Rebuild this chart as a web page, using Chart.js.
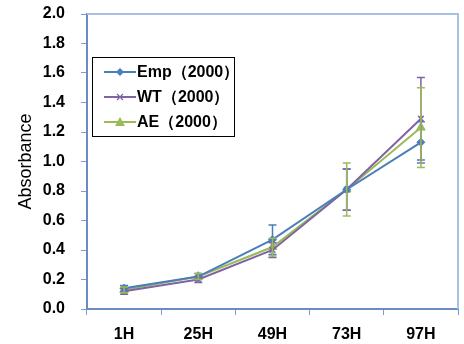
<!DOCTYPE html>
<html>
<head>
<meta charset="utf-8">
<script src="https://cdn.jsdelivr.net/npm/chart.js@4.4.0/dist/chart.umd.min.js"></script>
<style>
  html, body { margin: 0; padding: 0; background: #fff; }
  #wrap { width: 464px; height: 344px; }
</style>
</head>
<body>
<div id="wrap"><canvas id="myChart" width="464" height="344"></canvas></div>
<script>
// tick labels / categories
var hours = ['1H', '25H', '49H', '73H', '97H'];

// series values
var empValues = [0.14, 0.22, 0.47, 0.81, 1.13];
var wtValues  = [0.12, 0.20, 0.40, 0.81, 1.29];
var aeValues  = [0.13, 0.22, 0.42, 0.81, 1.23];

// error bar half-heights
var empErr = [0.02, 0.02, 0.10, 0.14, 0.14];
var wtErr  = [0.02, 0.02, 0.05, 0.14, 0.28];
var aeErr  = [0.02, 0.02, 0.06, 0.18, 0.27];

var seriesNames = ['Emp\uFF082000\uFF09', 'WT\uFF082000\uFF09', 'AE\uFF082000\uFF09'];

var blue = '#4a7ebb';
var purple = '#8064a2';
var green = '#9bbb59';

// draws error bars through the y scale
var errorBars = {
    id: 'errorBars',
    afterDatasetsDraw: function(chart) {
        var ctx = chart.ctx;
        var y = chart.scales.y;
        chart.data.datasets.forEach(function(ds, i) {
            var meta = chart.getDatasetMeta(i);
            ctx.save();
            ctx.strokeStyle = ds.borderColor;
            ctx.lineWidth = 1.5;
            meta.data.forEach(function(pt, j) {
                var v = ds.data[j];
                var e = ds.errors[j];
                var top = y.getPixelForValue(v + e);
                var bot = y.getPixelForValue(v - e);
                ctx.beginPath();
                ctx.moveTo(pt.x, top); ctx.lineTo(pt.x, bot);
                ctx.moveTo(pt.x - 4, top); ctx.lineTo(pt.x + 4, top);
                ctx.moveTo(pt.x - 4, bot); ctx.lineTo(pt.x + 4, bot);
                ctx.stroke();
            });
            ctx.restore();
        });
    }
};

// frame around the plot and the boxed legend inside it
var frameAndLegend = {
    id: 'frameAndLegend',
    afterDraw: function(chart) {
        var ctx = chart.ctx;
        var a = chart.chartArea;
        ctx.save();
        ctx.strokeStyle = '#a7c1e3';
        ctx.lineWidth = 2;
        ctx.beginPath();
        ctx.moveTo(a.left, a.top); ctx.lineTo(a.right, a.top); ctx.lineTo(a.right, a.bottom);
        ctx.stroke();

        // legend box
        var bx = 92, by = 57, bw = 142, bh = 79;
        ctx.strokeStyle = '#000';
        ctx.lineWidth = 1;
        ctx.strokeRect(bx + 0.5, by + 0.5, bw, bh);
        ctx.font = 'bold 16px "Liberation Sans", Arial, sans-serif';
        ctx.textBaseline = 'middle';
        chart.data.datasets.forEach(function(ds, i) {
            var ly = by + 15 + i * 25;
            ctx.strokeStyle = ds.borderColor;
            ctx.lineWidth = 2;
            ctx.beginPath();
            ctx.moveTo(bx + 12, ly); ctx.lineTo(bx + 44, ly);
            ctx.stroke();
            var cx = bx + 28;
            ctx.fillStyle = ds.borderColor;
            ctx.beginPath();
            if (ds.pointStyle === 'rectRot') {
                ctx.moveTo(cx, ly - 4); ctx.lineTo(cx + 4, ly); ctx.lineTo(cx, ly + 4); ctx.lineTo(cx - 4, ly);
                ctx.closePath(); ctx.fill();
            } else if (ds.pointStyle === 'triangle') {
                ctx.moveTo(cx, ly - 5); ctx.lineTo(cx + 5, ly + 4); ctx.lineTo(cx - 5, ly + 4);
                ctx.closePath(); ctx.fill();
            } else {
                ctx.lineWidth = 1.2;
                ctx.moveTo(cx - 3, ly - 3); ctx.lineTo(cx + 3, ly + 3);
                ctx.moveTo(cx + 3, ly - 3); ctx.lineTo(cx - 3, ly + 3);
                ctx.stroke();
            }
            ctx.fillStyle = '#000';
            ctx.fillText(ds.label, bx + 45, ly + 1);
        });
        ctx.restore();
    }
};

function makeSet(label, values, errs, color, style, radius) {
    return {
        label: label,
        data: values,
        errors: errs,
        borderColor: color,
        backgroundColor: color,
        borderWidth: 2,
        pointStyle: style,
        pointRadius: radius,
        pointBorderWidth: style === 'crossRot' ? 1.5 : 1,
        tension: 0
    };
}

function showChart() {
    var data = {
        labels: hours,
        datasets: [
            makeSet(seriesNames[0], empValues, empErr, blue, 'rectRot', 4),
            makeSet(seriesNames[1], wtValues, wtErr, purple, 'crossRot', 4),
            makeSet(seriesNames[2], aeValues, aeErr, green, 'triangle', 5)
        ]
    };
    var tickFont = { family: '"Liberation Sans", Arial, sans-serif', size: 16, weight: 'bold' };
    var options = {
        responsive: false,
        animation: false,
        layout: { padding: { top: 14, right: 4, left: 0, bottom: 0 } },
        plugins: { legend: { display: false }, tooltip: { enabled: false } },
        scales: {
            x: {
                offset: true,
                grid: { drawOnChartArea: false, drawTicks: true, tickLength: 6, color: '#7f9cc9', offset: true },
                border: { color: '#6a8cc2', width: 2 },
                ticks: { color: '#000', font: tickFont, padding: 10 },
                afterFit: function(s) { s.height = 35; }
            },
            y: {
                min: 0,
                max: 2,
                grid: { drawOnChartArea: false, drawTicks: true, tickLength: 6, color: '#7f9cc9' },
                border: { color: '#6a8cc2', width: 2 },
                ticks: {
                    stepSize: 0.2,
                    color: '#000',
                    font: tickFont,
                    padding: 16,
                    callback: function(v) { return v.toFixed(1); }
                },
                title: {
                    display: true,
                    text: 'Absorbance',
                    color: '#000',
                    font: { family: '"Liberation Sans", Arial, sans-serif', size: 18 },
                    padding: { top: 15, bottom: 0 }
                },
                afterFit: function(s) {
                    s.width = 87;
                    s.paddingTop = 0;
                    s.paddingBottom = 0;
                }
            }
        }
    };
    new Chart(document.getElementById('myChart'), {
        type: 'line',
        data: data,
        options: options,
        plugins: [errorBars, frameAndLegend]
    });
}

showChart();
</script>
</body>
</html>
